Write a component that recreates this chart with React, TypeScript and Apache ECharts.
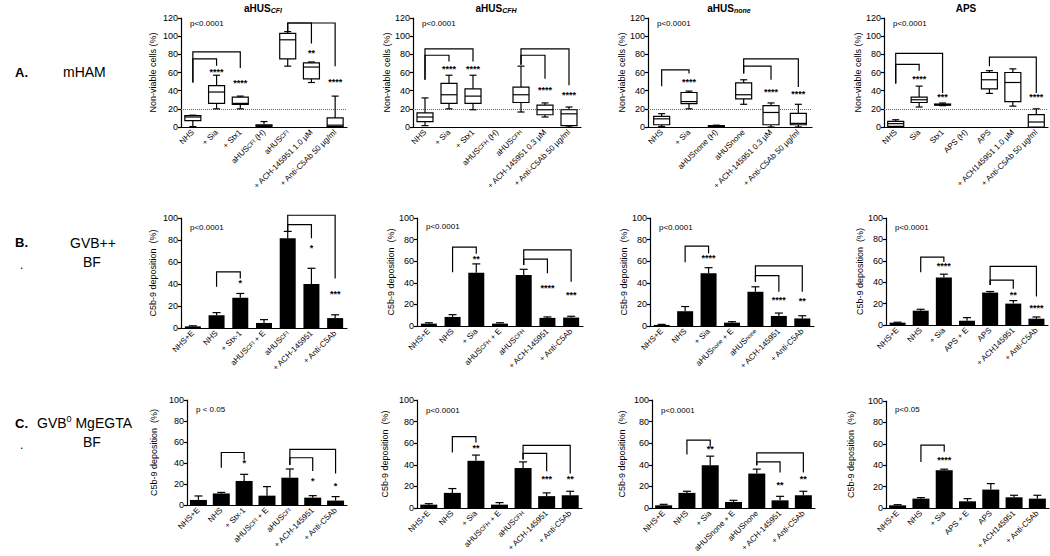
import React, { useEffect, useRef } from "react";
import * as echarts from "echarts";

const FONT = "'Liberation Sans', Arial, sans-serif";

// ---------- Row A : mHAM (boxplots: [cat, min, q1, median, q3, max]) ----------
const catsA1 = ["NHS", "+ Sia", "+ Stx1", "aHUSCFI (H)", "aHUSCFI", "+ ACH-145951 1.0 µM", "+ Anti-C5Ab 50 µg/ml"];
const boxA1 = [
  [0, 0.5, 7, 11, 12.5, 13],
  [1, 20, 26, 38.5, 45.5, 57],
  [2, 20, 25, 26, 33, 34],
  [3, 0, 0.5, 1.5, 2.5, 6],
  [4, 67, 75, 96, 103, 105],
  [5, 49, 53, 66, 70.5, 71.6],
  [6, 0, 0.5, 2, 10, 34],
];
const bracketsA1 = [[0, 1, 75, 49, 67.5], [0, 2, 82.6, 49, 65], [4, 5, 114.5, 105, 92], [4, 6, 114.5, 105, 67]];
const starsA1 = [[1, 61, 4], [2, 48, 4], [5, 82, 2], [6, 49, 4]];

const catsA2 = ["NHS", "+ Sia", "+ Stx1", "aHUSCFH (H)", "aHUSCFH", "+ ACH-145951 0.3 µM", "+ Anti-C5Ab 50 µg/ml"];
const boxA2 = [
  [0, 1.5, 6, 11, 15.5, 32],
  [1, 20, 26, 35.5, 48, 57],
  [2, 19, 26, 34, 42, 57],
  [4, 16.5, 27, 35.5, 44, 67],
  [5, 11, 13.5, 19, 24, 26.5],
  [6, 0, 1.5, 14.5, 19, 22],
];
const bracketsA2 = [[0, 1, 79, 52, 72], [0, 2, 86, 52, 72], [4, 5, 79, 68.5, 53], [4, 6, 86, 68.5, 46]];
const starsA2 = [[1, 64, 4], [2, 64, 4], [5, 41, 4], [6, 35, 4]];

const catsA3 = ["NHS", "+ Sia", "aHUSnone (H)", "aHUSnone", "+ ACH-145951 0.3 µM", "+ Anti-C5Ab 50 µg/ml"];
const boxA3 = [
  [0, 0.7, 2.5, 9, 11.7, 14.7],
  [1, 20, 25.7, 28, 38, 39.5],
  [2, 0, 0.5, 1, 1.5, 2],
  [3, 25, 31, 35.5, 48.5, 52],
  [4, 0, 2.5, 16, 23.5, 26.5],
  [5, 0, 2.5, 4, 15, 25],
];
const bracketsA3 = [[0, 1, 63, 45, 59], [3, 4, 67, 59, 52], [3, 5, 75, 59, 44]];
const starsA3 = [[1, 50, 4], [4, 38.5, 4], [5, 36, 4]];

const catsA4 = ["NHS", "Sia", "Stx1", "APS (H)", "APS", "+ ACH145951 1.0 µM", "+ Anti-C5Ab 50 µg/ml"];
const boxA4 = [
  [0, 0, 0.7, 3.7, 6.2, 8],
  [1, 22, 27, 30, 33, 45],
  [2, 23.5, 24, 24.6, 25.3, 26.4],
  [4, 37, 42, 52, 60, 62],
  [5, 23, 28, 49, 60, 64],
  [6, 0, 0, 5.5, 13.6, 20],
];
const bracketsA4 = [[0, 1, 69, 48, 62], [0, 2, 81, 48, 37.5], [4, 6, 77, 67, 37.5]];
const starsA4 = [[1, 53, 4], [2, 33, 3], [6, 32.7, 4]];

// ---------- Row B : GVB++ BF (mean, upper error) ----------
const catsB1 = ["NHS+E", "NHS", "+ Stx-1", "aHUSCFI + E", "aHUSCFI", "+ ACH-145951", "+ Anti-C5Ab"];
const meanB1 = [1.5, 11.6, 27.5, 4.6, 81.7, 40, 9];
const errB1 = [2, 14, 31.4, 7.6, 87.8, 54.3, 12];
const bracketsB1 = [[1, 2, 51, 37.5, 45], [4, 5, 94, 88, 81.7], [4, 6, 102.5, 88, 45]];
const starsB1 = [[2, 40.5, 1], [5, 72.6, 1], [6, 31, 3]];

const catsB2 = ["NHS+E", "NHS", "+ Sia", "aHUSCFH + E", "aHUSCFH", "+ ACH-145951", "+ Anti-C5Ab"];
const meanB2 = [2.2, 8.4, 49.4, 2.2, 47.2, 7.5, 7.8];
const errB2 = [3, 10.5, 57.5, 3, 52.5, 8.4, 9];
const bracketsB2 = [[1, 2, 73, 49.7, 67], [4, 5, 62, 56.5, 48.8], [4, 6, 70.5, 56.5, 41]];
const starsB2 = [[2, 62, 2], [5, 35, 4], [6, 28.6, 3]];

const catsB3 = ["NHS+E", "NHS", "+ Sia", "aHUSnone + E", "aHUSnone", "+ ACH-145951", "+ Anti-C5Ab"];
const meanB3 = [1, 13.7, 48.8, 3.1, 31.7, 9.3, 7];
const errB3 = [1.5, 18, 54, 4, 36.3, 12, 9.5];
const bracketsB3 = [[1, 2, 74, 59, 67.4], [4, 5, 46.6, 41, 31.7], [4, 6, 55.6, 41, 31.7]];
const starsB3 = [[2, 62.7, 4], [5, 24, 4], [6, 23, 2]];

const catsB4 = ["NHS+E", "NHS", "+ Sia", "APS + E", "APS", "+ ACH145951", "+ Anti-C5Ab"];
const meanB4 = [2.2, 13.4, 44.4, 4, 30.3, 20, 5.9];
const errB4 = [2.6, 14.7, 47.5, 6.9, 31.3, 22.8, 7.5];
const bracketsB4 = [[1, 2, 63.4, 49.4, 58.8], [4, 5, 42, 37.5, 33.8], [4, 6, 54.7, 37.5, 26.6]];
const starsB4 = [[2, 54.7, 4], [5, 28, 2], [6, 16, 4]];

// ---------- Row C : GVB0 MgEGTA BF ----------
const catsC1 = ["NHS+E", "NHS", "+ Stx-1", "aHUSCFI + E", "aHUSCFI", "+ ACH-145951", "+ Anti-C5Ab"];
const meanC1 = [4.8, 11, 22.9, 8.9, 26, 7, 4.2];
const errC1 = [8.6, 12, 29.2, 17.5, 34.3, 8.9, 8];
const bracketsC1 = [[1, 2, 50, 35.5, 43], [4, 5, 45, 38, 32.4], [4, 6, 53, 38, 30]];
const starsC1 = [[2, 39.7, 1], [5, 23, 1], [6, 18, 1]];

const catsC2 = ["NHS+E", "NHS", "+ Sia", "aHUSCFH + E", "aHUSCFH", "+ ACH-145951", "+ Anti-C5Ab"];
const meanC2 = [3.1, 14, 43.7, 3.1, 37, 11, 11.8];
const errC2 = [4, 18, 49, 5, 42.7, 14, 15.5];
const bracketsC2 = [[1, 2, 66, 51.4, 60.7], [4, 5, 50.5, 45, 34], [4, 6, 58, 45, 32]];
const starsC2 = [[2, 55.7, 2], [5, 27, 3], [6, 27, 2]];

const catsC3 = ["NHS+E", "NHS", "+ Sia", "aHUSnone + E", "aHUSnone", "+ ACH-145951", "+ Anti-C5Ab"];
const meanC3 = [2.5, 14, 39.6, 5.6, 31.9, 7.1, 11.8];
const errC3 = [3.4, 15.5, 48, 7.1, 36, 10.8, 15.5];
const bracketsC3 = [[1, 2, 62.8, 49.5, 56.7], [4, 5, 42.7, 39.6, 32.8], [4, 6, 51, 39.6, 32.8]];
const starsC3 = [[2, 55, 2], [5, 21, 2], [6, 27, 2]];

const catsC4 = ["NHS+E", "NHS", "+ Sia", "APS + E", "APS", "+ ACH145951", "+ Anti-C5Ab"];
const meanC4 = [2.5, 8.75, 35.3, 6.25, 17.2, 10, 8.75];
const errC4 = [3.1, 9.7, 36.3, 8.75, 22.8, 11.9, 11.9];
const bracketsC4 = [[1, 2, 58.75, 43, 52.5]];
const starsC4 = [[2, 44.7, 4]];

const pTexts = [
  "p<0.0001", "p<0.0001", "p<0.0001", "p<0.0001",
  "p<0.0001", "p<0.0001", "p<0.0001", "p<0.0001",
  "p < 0.05", "p<0.0001", "p<0.0001", "p<0.05",
];
const pValuesY = [114, 114, 114, 114, 91.5, 92, 91.5, 91.5, 91, 90.7, 90.7, 92];

const yNameA = "Non-viable cells (%)";
const yNameBC = "C5b-9 deposition  (%)";

// layout (pixels)
const GRIDS = [
  { left: 181, top: 18, width: 166, height: 109 },
  { left: 413, top: 18, width: 168, height: 109 },
  { left: 648, top: 18, width: 164, height: 109 },
  { left: 884, top: 18, width: 164, height: 109 },
  { left: 181, top: 218, width: 166, height: 110 },
  { left: 417, top: 218, width: 166, height: 108 },
  { left: 650, top: 218, width: 164, height: 108 },
  { left: 886, top: 218, width: 162, height: 107 },
  { left: 187, top: 400, width: 160, height: 105 },
  { left: 417, top: 400, width: 165, height: 108 },
  { left: 652, top: 400, width: 163, height: 108 },
  { left: 886, top: 401, width: 163, height: 107 },
];
const NAME_GAPS = [24, 22, 21, 20, 24, 18, 21, 21, 29, 28, 26, 31];

type Panel = {
  cats: string[];
  box?: number[][];
  mean?: number[];
  err?: number[];
  brackets: number[][];
  stars: number[][];
  ymax: number;
  yname: string;
};

const panels: Panel[] = [
  { cats: catsA1, box: boxA1, brackets: bracketsA1, stars: starsA1, ymax: 120, yname: yNameA },
  { cats: catsA2, box: boxA2, brackets: bracketsA2, stars: starsA2, ymax: 120, yname: yNameA },
  { cats: catsA3, box: boxA3, brackets: bracketsA3, stars: starsA3, ymax: 120, yname: yNameA },
  { cats: catsA4, box: boxA4, brackets: bracketsA4, stars: starsA4, ymax: 120, yname: yNameA },
  { cats: catsB1, mean: meanB1, err: errB1, brackets: bracketsB1, stars: starsB1, ymax: 100, yname: yNameBC },
  { cats: catsB2, mean: meanB2, err: errB2, brackets: bracketsB2, stars: starsB2, ymax: 100, yname: yNameBC },
  { cats: catsB3, mean: meanB3, err: errB3, brackets: bracketsB3, stars: starsB3, ymax: 100, yname: yNameBC },
  { cats: catsB4, mean: meanB4, err: errB4, brackets: bracketsB4, stars: starsB4, ymax: 100, yname: yNameBC },
  { cats: catsC1, mean: meanC1, err: errC1, brackets: bracketsC1, stars: starsC1, ymax: 100, yname: yNameBC },
  { cats: catsC2, mean: meanC2, err: errC2, brackets: bracketsC2, stars: starsC2, ymax: 100, yname: yNameBC },
  { cats: catsC3, mean: meanC3, err: errC3, brackets: bracketsC3, stars: starsC3, ymax: 100, yname: yNameBC },
  { cats: catsC4, mean: meanC4, err: errC4, brackets: bracketsC4, stars: starsC4, ymax: 100, yname: yNameBC },
];

const LW = 1.2;

function renderBox(params: any, api: any) {
  const c = api.value(0);
  const x = api.coord([c, 0])[0];
  const y = (d: number) => api.coord([c, api.value(d)])[1];
  const yMin = y(1), yQ1 = y(2), yMed = y(3), yQ3 = y(4), yMax = y(5);
  const hw = 8, cw = 3.5;
  const st = { stroke: "#000", lineWidth: LW, fill: "none" };
  return {
    type: "group",
    children: [
      { type: "line", shape: { x1: x, y1: yQ3, x2: x, y2: yMax }, style: st },
      { type: "line", shape: { x1: x, y1: yQ1, x2: x, y2: yMin }, style: st },
      { type: "line", shape: { x1: x - cw, y1: yMax, x2: x + cw, y2: yMax }, style: st },
      { type: "line", shape: { x1: x - cw, y1: yMin, x2: x + cw, y2: yMin }, style: st },
      { type: "rect", shape: { x: x - hw, y: yQ3, width: 2 * hw, height: Math.max(yQ1 - yQ3, 0.5) }, style: { stroke: "#000", lineWidth: LW, fill: "#fff" } },
      { type: "line", shape: { x1: x - hw, y1: yMed, x2: x + hw, y2: yMed }, style: st },
    ],
  };
}

function renderErr(params: any, api: any) {
  const c = api.value(0);
  const p0 = api.coord([c, api.value(1)]);
  const p1 = api.coord([c, api.value(2)]);
  const cw = 4;
  const st = { stroke: "#000", lineWidth: LW };
  return {
    type: "group",
    children: [
      { type: "line", shape: { x1: p0[0], y1: p0[1], x2: p1[0], y2: p1[1] }, style: st },
      { type: "line", shape: { x1: p1[0] - cw, y1: p1[1], x2: p1[0] + cw, y2: p1[1] }, style: st },
    ],
  };
}

function renderBracket(params: any, api: any) {
  const a = api.value(0), b = api.value(1);
  const x1 = api.coord([a, 0])[0];
  const x2 = api.coord([b, 0])[0];
  const yT = api.coord([a, api.value(2)])[1];
  const yL = api.coord([a, api.value(3)])[1];
  const yR = api.coord([a, api.value(4)])[1];
  return {
    type: "polyline",
    shape: { points: [[x1, yL], [x1, yT], [x2, yT], [x2, yR]] },
    style: { stroke: "#000", lineWidth: LW, fill: null },
  };
}

function renderStars(params: any, api: any) {
  const p = api.coord([api.value(0), api.value(1)]);
  return {
    type: "text",
    x: p[0],
    y: p[1],
    style: {
      text: "*".repeat(api.value(2)),
      fontSize: 9,
      fontFamily: FONT,
      fontWeight: "bold",
      fill: "#000",
      align: "center",
      verticalAlign: "middle",
    },
  };
}

function makeRenderP(text: string) {
  return (params: any, api: any) => {
    const p = api.coord([0, api.value(1)]);
    return {
      type: "text",
      x: params.coordSys.x + 9,
      y: p[1],
      style: { text, fontSize: 8, fontFamily: FONT, fill: "#000", align: "left", verticalAlign: "middle" },
    };
  };
}

function labelFormatter(row: number) {
  return (v: string) => {
    let s = v.replace(/(CFI|CFH)/, "{s|$1}");
    if (row === 1) s = s.replace(/aHUSnone/, "aHUS{s|none}");
    return s;
  };
}

function buildOption() {
  const grid: any[] = [];
  const xAxis: any[] = [];
  const yAxis: any[] = [];
  const series: any[] = [];

  panels.forEach((pn, i) => {
    const row = Math.floor(i / 4);
    grid.push({ ...GRIDS[i], containLabel: false });
    xAxis.push({
      type: "category",
      gridIndex: i,
      data: pn.cats,
      axisLine: { lineStyle: { color: "#000", width: LW } },
      axisTick: { alignWithLabel: true, length: 3, lineStyle: { color: "#000", width: LW } },
      axisLabel: {
        interval: 0,
        rotate: 45,
        fontSize: 8,
        color: "#000",
        fontFamily: FONT,
        margin: 4,
        formatter: labelFormatter(row),
        rich: { s: { fontSize: 6, fontFamily: FONT, color: "#000" } },
      },
      splitLine: { show: false },
    });
    yAxis.push({
      type: "value",
      gridIndex: i,
      min: 0,
      max: pn.ymax,
      interval: 20,
      name: pn.yname,
      nameLocation: "middle",
      nameGap: NAME_GAPS[i],
      nameRotate: 90,
      nameTextStyle: { fontSize: 9, color: "#000", fontFamily: FONT },
      axisLine: { show: true, lineStyle: { color: "#000", width: LW } },
      axisTick: { show: true, length: 3, lineStyle: { color: "#000", width: LW } },
      axisLabel: { fontSize: 9, color: "#000", fontFamily: FONT, margin: 3 },
      splitLine: { show: false },
    });

    if (pn.box) {
      series.push({
        type: "custom",
        xAxisIndex: i,
        yAxisIndex: i,
        data: pn.box,
        renderItem: renderBox,
        clip: false,
        silent: true,
        z: 3,
        markLine: {
          silent: true,
          symbol: "none",
          label: { show: false },
          lineStyle: { type: "dotted", color: "#666", width: 1 },
          data: [{ yAxis: 20 }],
          z: 1,
        },
      });
    } else if (pn.mean && pn.err) {
      series.push({
        type: "bar",
        xAxisIndex: i,
        yAxisIndex: i,
        data: pn.mean,
        barWidth: row === 2 ? 17 : 16,
        itemStyle: { color: "#000" },
        silent: true,
        z: 2,
      });
      const m = pn.mean;
      series.push({
        type: "custom",
        xAxisIndex: i,
        yAxisIndex: i,
        data: pn.err.map((e, k) => [k, m[k], e]),
        renderItem: renderErr,
        clip: false,
        silent: true,
        z: 3,
      });
    }
    series.push({
      type: "custom",
      xAxisIndex: i,
      yAxisIndex: i,
      data: pn.brackets,
      renderItem: renderBracket,
      clip: false,
      silent: true,
      z: 4,
    });
    series.push({
      type: "custom",
      xAxisIndex: i,
      yAxisIndex: i,
      data: pn.stars,
      renderItem: renderStars,
      clip: false,
      silent: true,
      z: 4,
    });
    series.push({
      type: "custom",
      xAxisIndex: i,
      yAxisIndex: i,
      data: [[0, pValuesY[i]]],
      renderItem: makeRenderP(pTexts[i]),
      clip: false,
      silent: true,
      z: 4,
    });
  });

  const titleStyle = (txt: string) => ({
    text: txt,
    rich: {
      b: { fontSize: 10, fontWeight: "bold", fontFamily: FONT, fill: "#000", color: "#000" },
      s: { fontSize: 7, fontWeight: "bold", fontStyle: "italic", fontFamily: FONT, color: "#000", padding: [4, 0, 0, 0] },
    },
    align: "center",
    verticalAlign: "middle",
  });

  const rowText = (x: number, y: number, text: string, bold = false, size = 14) => ({
    type: "text",
    x,
    y,
    style: { text, fontSize: size, fontWeight: bold ? "bold" : "normal", fontFamily: FONT, fill: "#000", align: "left", verticalAlign: "middle" },
  });

  const graphic: any[] = [
    { type: "text", x: 263, y: 8, style: titleStyle("{b|aHUS}{s|CFI}") },
    { type: "text", x: 496, y: 8, style: titleStyle("{b|aHUS}{s|CFH}") },
    { type: "text", x: 729, y: 8, style: titleStyle("{b|aHUS}{s|none}") },
    { type: "text", x: 966, y: 8, style: titleStyle("{b|APS}") },
    rowText(15, 72, "A.", true, 13),
    rowText(63, 72, "mHAM"),
    rowText(15, 242, "B.", true, 13),
    rowText(70, 243, "GVB++"),
    rowText(83, 262, "BF"),
    rowText(20, 265, ".", false, 12),
    rowText(15, 423, "C.", true, 13),
    {
      type: "text",
      x: 37,
      y: 423,
      style: {
        text: "{n|GVB}{sup|0}{n| MgEGTA}",
        rich: {
          n: { fontSize: 14, fontFamily: FONT, color: "#000" },
          sup: { fontSize: 9, fontFamily: FONT, color: "#000", padding: [0, 0, 8, 0] },
        },
        align: "left",
        verticalAlign: "middle",
      },
    },
    rowText(83, 442, "BF"),
    rowText(20, 445, ".", false, 12),
  ];

  return {
    animation: false,
    backgroundColor: "#fff",
    textStyle: { fontFamily: FONT },
    grid,
    xAxis,
    yAxis,
    series,
    graphic,
  };
}

export default function App() {
  const ref = useRef<HTMLDivElement>(null);
  useEffect(() => {
    document.body.style.margin = "0";
    if (!ref.current) return;
    const chart = echarts.init(ref.current, null, { renderer: "svg" });
    chart.setOption(buildOption() as any);
    return () => {
      chart.dispose();
    };
  }, []);
  return <div ref={ref} style={{ width: 1050, height: 556, background: "#fff" }} />;
}
